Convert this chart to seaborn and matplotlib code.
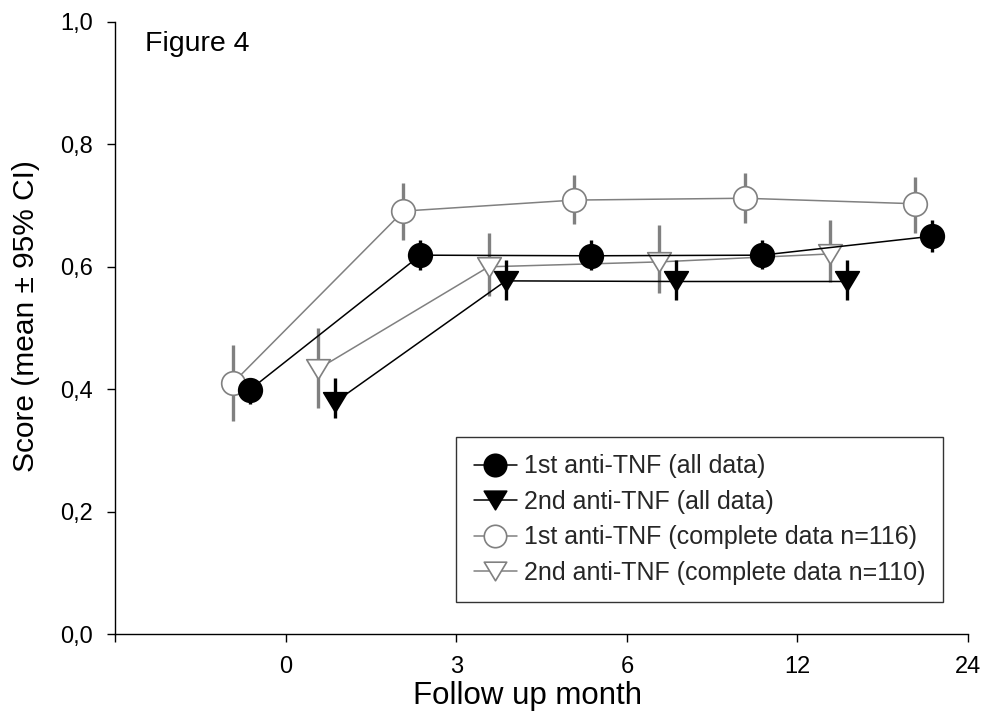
import numpy as np
import pandas as pd
import matplotlib
matplotlib.use("Agg")
import matplotlib.pyplot as plt
from matplotlib.path import Path
import seaborn as sns

# follow-up months (categorical, evenly spaced on the axis)
months = ["0", "3", "6", "12", "24"]

# 1st anti-TNF (all data)
first_all_mean = [0.399, 0.619, 0.618, 0.619, 0.650]
first_all_lo = [0.376, 0.595, 0.595, 0.596, 0.624]
first_all_hi = [0.418, 0.644, 0.644, 0.644, 0.676]

# 2nd anti-TNF (all data), no 24 month point
second_all_mean = [0.379, 0.577, 0.576, 0.576]
second_all_lo = [0.353, 0.546, 0.546, 0.546]
second_all_hi = [0.418, 0.611, 0.611, 0.611]

# 1st anti-TNF (complete data n=116)
first_comp_mean = [0.410, 0.691, 0.709, 0.712, 0.703]
first_comp_lo = [0.348, 0.644, 0.670, 0.671, 0.655]
first_comp_hi = [0.472, 0.737, 0.750, 0.753, 0.747]

# 2nd anti-TNF (complete data n=110), no 24 month point
second_comp_mean = [0.433, 0.600, 0.608, 0.621]
second_comp_lo = [0.369, 0.552, 0.557, 0.575]
second_comp_hi = [0.500, 0.655, 0.668, 0.676]

labels = [
    "1st anti-TNF (all data)",
    "2nd anti-TNF (all data)",
    "1st anti-TNF (complete data n=116)",
    "2nd anti-TNF (complete data n=110)",
]

sns.set_theme(style="ticks")
plt.rcParams["font.family"] = ["Liberation Sans", "DejaVu Sans"]

GRAY = "#808080"
# slightly flattened down-pointing triangle, closed so the outline is complete
TRI = Path([(-1, 0.83), (1, 0.83), (0, -0.83), (-1, 0.83)], closed=True)

# gray series first, black ones on top
series = [
    dict(mean=first_comp_mean, lo=first_comp_lo, hi=first_comp_hi, label=labels[2],
         dodge=-0.31, marker="o", ms=17, face="white", edge=GRAY, line=GRAY, z=2),
    dict(mean=second_comp_mean, lo=second_comp_lo, hi=second_comp_hi, label=labels[3],
         dodge=0.19, marker=TRI, ms=17, face="white", edge=GRAY, line=GRAY, z=2),
    dict(mean=first_all_mean, lo=first_all_lo, hi=first_all_hi, label=labels[0],
         dodge=-0.21, marker="o", ms=17, face="black", edge="black", line="black", z=3),
    dict(mean=second_all_mean, lo=second_all_lo, hi=second_all_hi, label=labels[1],
         dodge=0.29, marker=TRI, ms=17, face="black", edge="black", line="black", z=3),
]

fig = plt.figure(figsize=(9.96, 7.16), dpi=100)
ax = fig.add_axes([0.1155, 0.1145, 0.8565, 0.8548])

for s in series:
    pos = np.arange(len(s["mean"])) + s["dodge"]
    df = pd.DataFrame({"pos": pos, "mean": s["mean"]})
    ax.vlines(pos, s["lo"], s["hi"], color=s["line"], lw=2.4, zorder=s["z"] - 0.5)
    sns.lineplot(data=df, x="pos", y="mean", ax=ax, color=s["line"], lw=1.1,
                 marker=s["marker"], markersize=s["ms"], markerfacecolor=s["face"],
                 markeredgecolor=s["edge"], markeredgewidth=1.2,
                 label=s["label"], zorder=s["z"])

ax.set_xlim(-1, 4)
ax.set_ylim(0, 1)
ax.set_xticks(np.arange(-1, len(months)))
ax.set_xticklabels([""] + months)
ax.set_yticks(np.arange(0, 1.01, 0.2))
ax.set_yticklabels([f"{v:.1f}".replace(".", ",") for v in np.arange(0, 1.01, 0.2)])
ax.tick_params(axis="both", labelsize=17, length=6, width=1, color="black", labelcolor="black")
ax.tick_params(axis="x", pad=10)
ax.tick_params(axis="y", pad=10)

for sp in ["top", "right"]:
    ax.spines[sp].set_visible(False)
for sp in ["left", "bottom"]:
    ax.spines[sp].set_color("black")
    ax.spines[sp].set_linewidth(1)

ax.set_xlabel("Follow up month", fontsize=22.5, color="black")
ax.set_ylabel("Score (mean \u00b1 95% CI)", fontsize=21.5, color="black")
ax.xaxis.set_label_coords(0.484, -0.077)
ax.yaxis.set_label_coords(-0.088, 0.52)

ax.text(0.035, 0.985, "Figure 4", transform=ax.transAxes, fontsize=20.5,
        va="top", ha="left", color="black")

handles, labs = ax.get_legend_handles_labels()
order = [labs.index(l) for l in labels]
leg = ax.legend([handles[i] for i in order], [labs[i] for i in order],
                loc="upper left", bbox_to_anchor=(0.4, 0.322), borderaxespad=0,
                fontsize=18, frameon=True, fancybox=False, edgecolor="black",
                handlelength=1.72, handletextpad=0.3, labelspacing=0.46,
                borderpad=0.7, markerscale=0.95)
leg.get_frame().set_linewidth(1)

fig.savefig("out.png", dpi=100)
